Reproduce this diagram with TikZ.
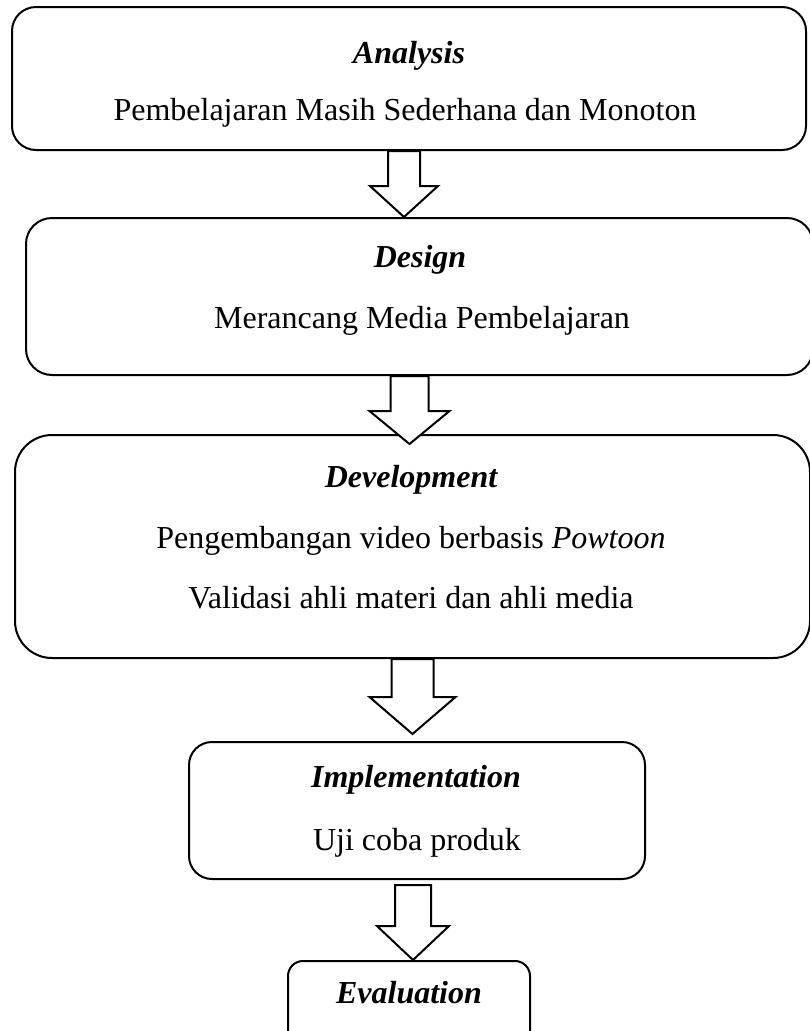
\documentclass[tikz,border=0pt]{standalone}
\usepackage{fontspec}
\setmainfont{Liberation Serif}
\usepackage{tikz}
\usetikzlibrary{shapes,arrows.meta}
\usetikzlibrary{calc}
\tikzset{
    stagebox/.style={draw, line width=2pt, inner sep=0pt, fill=white},
    stagetext/.style={anchor=base, inner sep=0pt, font=\fontsize{32}{38}\selectfont},
    blockarrow/.style={draw, line width=2pt, fill=white, line join=miter}}

\begin{document}
\begin{tikzpicture}[x=1pt,y=-1pt]
\useasboundingbox (0,0) rectangle (809,1031);
\tikzstyle{title}=[stagetext,font=\fontsize{32}{38}\selectfont\bfseries\itshape]
    \node (ana)[stagebox,minimum width=794pt,minimum height=143pt,rounded corners=24pt] at (409,78.5) {};
    \node (des)[stagebox,minimum width=787pt,minimum height=157pt,rounded corners=26pt] at (419.5,296.5) {};
    \node (dev)[stagebox,minimum width=795pt,minimum height=223pt,rounded corners=37pt] at (412.5,546.5) {};
    \node (imp)[stagebox,minimum width=456pt,minimum height=137pt,rounded corners=23pt] at (417,810.5) {};
    \node (eva)[stagebox,minimum width=242pt,minimum height=89pt,rounded corners=15pt] at (409,1005.5) {};

    \node (anaT)[title] at (409,63) {Analysis};
    \node (anaL)[stagetext] at (405,120) {Pembelajaran Masih Sederhana dan Monoton};
    \node (desT)[title] at (420,267) {Design};
    \node (desL)[stagetext] at (422,328) {Merancang Media Pembelajaran};
    \node (devT)[title] at (411,487) {Development};
    \node (devL1)[stagetext] at (411,548) {Pengembangan video berbasis \textit{Powtoon}};
    \node (devL2)[stagetext] at (411,608) {Validasi ahli materi dan ahli media};
    \node (impT)[title] at (416,787) {Implementation};
    \node (impL)[stagetext] at (417,850) {Uji coba produk};
    \node (evaT)[title] at (409,1003) {Evaluation};

    \draw[blockarrow] let \p1=([xshift=-5pt]ana.south), \p2=(des.north) in
        (\x1-16pt,\y1) -- (\x1+16pt,\y1) -- (\x1+16pt,\y2+31pt) -- (\x1+34pt,\y2+31pt)
        -- (\x1,\y2) -- (\x1-34pt,\y2+31pt) -- (\x1-16pt,\y2+31pt) -- cycle;
    \draw[blockarrow] let \p1=([xshift=-10pt]des.south), \p2=([yshift=-10pt]dev.north) in
        (\x1-19pt,\y1) -- (\x1+19pt,\y1) -- (\x1+19pt,\y2+33pt) -- (\x1+40pt,\y2+33pt)
        -- (\x1,\y2) -- (\x1-40pt,\y2+33pt) -- (\x1-19pt,\y2+33pt) -- cycle;
    \draw[blockarrow] let \p1=(dev.south), \p2=([yshift=7pt]imp.north) in
        (\x1-21pt,\y1) -- (\x1+21pt,\y1) -- (\x1+21pt,\y2+37pt) -- (\x1+43pt,\y2+37pt)
        -- (\x1,\y2) -- (\x1-43pt,\y2+37pt) -- (\x1-21pt,\y2+37pt) -- cycle;
    \draw[blockarrow] let \p1=([xshift=-4pt,yshift=-5pt]imp.south), \p2=(eva.north) in
        (\x1-18pt,\y1) -- (\x1+18pt,\y1) -- (\x1+18pt,\y2+34pt) -- (\x1+36pt,\y2+34pt)
        -- (\x1,\y2) -- (\x1-36pt,\y2+34pt) -- (\x1-18pt,\y2+34pt) -- cycle;
\end{tikzpicture}
\end{document}
